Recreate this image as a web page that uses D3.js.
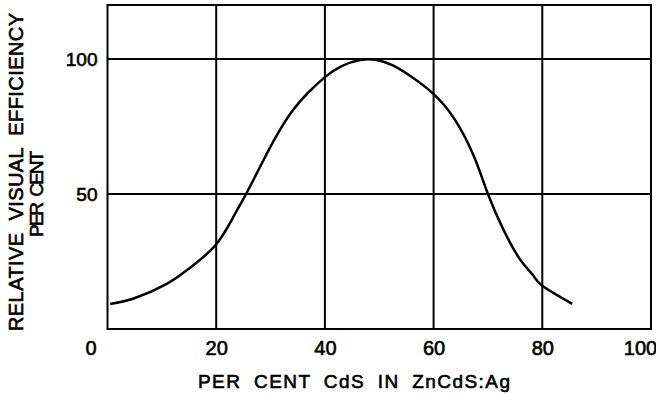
<!DOCTYPE html>
<html>
<head>
<meta charset="utf-8">
<script src="https://cdn.jsdelivr.net/npm/d3@7"></script>
<style>
  html, body { margin: 0; padding: 0; background: #fff; }
  svg text { font-family: "Liberation Sans", Arial, sans-serif; fill: #000; stroke: #000; stroke-width: 0.6px; }
</style>
</head>
<body>
<svg id="chart" width="656" height="394"></svg>
<script>
// Data
const cdsPercent = [0.5, 4.7, 10.9, 15.2, 19.8, 23.1, 25.5, 27.7, 30.8, 33.9, 36.9, 40, 43, 46.5, 49.5, 52.5, 56, 60, 63.7, 67.3, 70, 72.8, 75.9, 78.3, 80, 85.5];
const efficiency = [9.3, 11.2, 16.7, 22.7, 30.9, 41.3, 50, 58.6, 70.5, 80.5, 87.5, 93.3, 97.3, 99.6, 99.6, 97.6, 93.3, 87.0, 78.2, 64.5, 50, 37, 25.8, 19.9, 16, 9.3];
const xTicks = [0, 20, 40, 60, 80, 100];
const yTicks = [50, 100];
const xGrid = [20, 40, 60, 80];
const yGrid = [50, 100];
const xTitle = "PER CENT CdS IN ZnCdS:Ag";
const yTitle1 = "RELATIVE VISUAL EFFICIENCY";
const yTitle2 = "PER CENT";

const svg = d3.select("#chart");
const x = d3.scaleLinear().domain([0, 100]).range([107.5, 651]);
const y = d3.scaleLinear().domain([0, 120]).range([329, 5]);

// gridlines
svg.append("g").selectAll("line").data(xGrid).join("line")
  .attr("x1", d => x(d)).attr("x2", d => x(d))
  .attr("y1", y(0)).attr("y2", y(120))
  .attr("stroke", "#000").attr("stroke-width", 2);
svg.append("g").selectAll("line").data(yGrid).join("line")
  .attr("x1", x(0)).attr("x2", x(100))
  .attr("y1", d => y(d)).attr("y2", d => y(d))
  .attr("stroke", "#000").attr("stroke-width", 2);

// frame
svg.append("rect")
  .attr("x", x(0)).attr("y", y(120))
  .attr("width", x(100) - x(0)).attr("height", y(0) - y(120))
  .attr("fill", "none").attr("stroke", "#000").attr("stroke-width", 2);

// curve
const pts = cdsPercent.map((v, i) => [v, efficiency[i]]);
svg.append("path")
  .datum(pts)
  .attr("fill", "none").attr("stroke", "#000").attr("stroke-width", 2.5)
  .attr("d", d3.line().x(d => x(d[0])).y(d => y(d[1])).curve(d3.curveNatural));

// x axis labels
const xa = svg.append("g").attr("transform", `translate(0,${y(0)})`)
  .call(d3.axisBottom(x).tickValues(xTicks).tickSize(0).tickPadding(12).tickFormat(d3.format("d")));
xa.select(".domain").remove();
xa.selectAll("text").attr("font-size", 20).attr("font-family", null)
  .attr("dx", d => d === 0 ? -17 : (d === 100 ? -11 : 0));

// y axis labels
const ya = svg.append("g").attr("transform", `translate(${x(0)},0)`)
  .call(d3.axisLeft(y).tickValues(yTicks).tickSize(0).tickPadding(10).tickFormat(d3.format("d")));
ya.select(".domain").remove();
ya.selectAll("text").attr("font-size", 19).attr("font-family", null);

// titles
svg.append("text")
  .attr("x", 354).attr("y", 388)
  .attr("text-anchor", "middle").attr("font-size", 19)
  .attr("textLength", 312).attr("lengthAdjust", "spacing")
  .style("word-spacing", "6px")
  .text(xTitle);
svg.append("text")
  .attr("transform", "translate(23,172) rotate(-90)")
  .attr("text-anchor", "middle").attr("font-size", 20)
  .attr("textLength", 318).attr("lengthAdjust", "spacing")
  .style("word-spacing", "6px")
  .text(yTitle1);
svg.append("text")
  .attr("transform", "translate(43,194) rotate(-90)")
  .attr("text-anchor", "middle").attr("font-size", 19)
  .attr("textLength", 86).attr("lengthAdjust", "spacing")
  .style("word-spacing", "4px")
  .text(yTitle2);
</script>
</body>
</html>
